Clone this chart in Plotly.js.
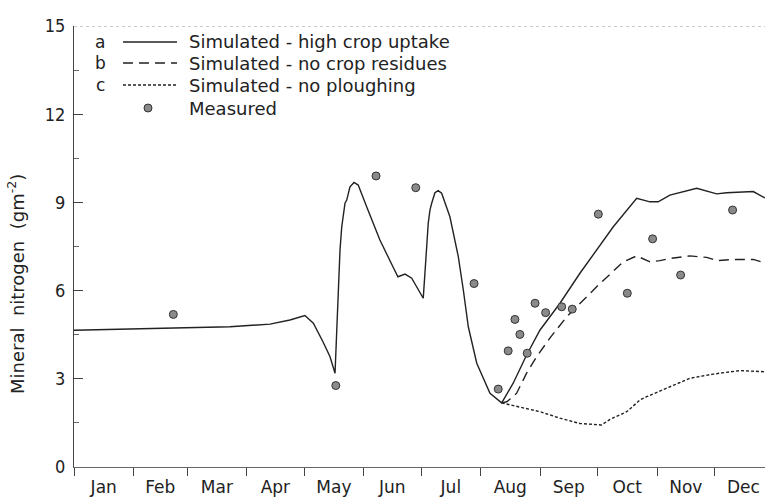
<!DOCTYPE html>
<html>
<head>
<meta charset="utf-8">
<script src="https://cdn.plot.ly/plotly-3.0.1.min.js"></script>
<style>
  html, body { margin: 0; padding: 0; background: #fff; }
  #chart { width: 765px; height: 500px; }
</style>
</head>
<body>
<div id="chart"></div>
<script>
// Mineral nitrogen in the soil over one year; x values are day of year.

// a: simulated, high crop uptake
const dayA = [0, 29.2, 81.3, 102.2, 112.6, 120.4, 124.8, 129.8, 133.5, 136.1, 137, 137.8, 138.7, 139.6,
  141.3, 142.2, 143.9, 146.0, 148.2, 152.6, 159.5, 166.3, 168.9, 172.6, 176.1, 182.1, 183.0, 183.9,
  184.7, 185.6, 186.5, 188.2, 189.9, 191.7, 196.0, 200.4, 203.0, 205.6, 210.0, 215.2, 216.9, 223.0,
  229.0, 236.0, 243.0, 253.4, 263.8, 281.2, 293.4, 300.3, 304.6, 310.7, 324.7, 335.1, 340.3, 354.2, 360.3];
const nA = [4.65, 4.70, 4.77, 4.86, 5.00, 5.15, 4.89, 4.26, 3.75, 3.19, 4.55, 6.25, 7.38, 8.17,
  8.97, 9.08, 9.53, 9.68, 9.59, 8.85, 7.72, 6.81, 6.47, 6.56, 6.42, 5.74, 6.47, 7.49,
  8.29, 8.74, 8.97, 9.33, 9.40, 9.31, 8.51, 7.15, 6.02, 4.77, 3.53, 2.73, 2.51, 2.18,
  2.85, 3.81, 4.66, 5.57, 6.59, 8.17, 9.14, 9.02, 9.02, 9.25, 9.48, 9.29, 9.33, 9.37, 9.15];

// b: simulated, no crop residues
const dayB = [223.0, 225.6, 229.0, 230.8, 236.0, 241.2, 248.2, 256.9, 272.5, 286.4, 293.4, 300.3,
  305.5, 311.6, 321.1, 329.9, 335.1, 343.7, 354.2, 360.3];
const nB = [2.18, 2.22, 2.39, 2.51, 3.19, 3.75, 4.39, 5.11, 6.13, 6.98, 7.18, 6.98,
  7.02, 7.10, 7.18, 7.13, 7.02, 7.06, 7.06, 6.94];

// c: simulated, no ploughing
const dayC = [223.0, 234.3, 243.0, 253.4, 263.8, 275.1, 279.5, 288.2, 295.1, 298.6, 309.0, 321.2,
  333.3, 347.2, 360.3];
const nC = [2.18, 2.00, 1.88, 1.66, 1.48, 1.43, 1.62, 1.88, 2.28, 2.39, 2.68, 3.02,
  3.16, 3.28, 3.24];

// measured values
const dayM = [51.8, 136.5, 157.5, 178.2, 208.6, 221.2, 226.4, 229.9, 232.5, 236.3, 240.4, 245.9,
  254.3, 259.8, 273.4, 288.5, 301.7, 316.3, 343.4];
const nM = [5.19, 2.77, 9.90, 9.50, 6.24, 2.65, 3.95, 5.02, 4.51, 3.87, 5.57, 5.25,
  5.45, 5.37, 8.60, 5.91, 7.76, 6.53, 8.74];

const seriesLetters = ['a', 'b', 'c'];
const seriesNames = ['Simulated - high crop uptake', 'Simulated - no crop residues',
  'Simulated - no ploughing', 'Measured'];
const yTitle = 'Mineral\u00a0 nitrogen\u00a0 (gm<sup>-2</sup>)';

const YEAR0 = Date.UTC(1983, 0, 1);
function toDate(d) {
  const t = new Date(YEAR0 + d * 86400000);
  return t.toISOString().replace('T', ' ').slice(0, 19);
}
const dates = arr => arr.map(toDate);

const FONT = '"DejaVu Sans", sans-serif';
const FONT_C = '"DejaVu Sans Condensed", "DejaVu Sans", sans-serif';
const INK = '#222';

const lineStyles = [
  { color: INK, width: 1.4 },
  { color: INK, width: 1.4, dash: '10px,6px' },
  { color: INK, width: 1.4, dash: '3px,2px' }
];
const dotStyle = { symbol: 'circle', size: 8, color: '#8a8a8a', line: { color: '#333', width: 1 } };

const traces = [
  { x: dates(dayA), y: nA, mode: 'lines', name: seriesNames[0], line: lineStyles[0] },
  { x: dates(dayB), y: nB, mode: 'lines', name: seriesNames[1], line: lineStyles[1] },
  { x: dates(dayC), y: nC, mode: 'lines', name: seriesNames[2], line: lineStyles[2] },
  { x: dates(dayM), y: nM, mode: 'markers', name: seriesNames[3], marker: dotStyle }
];

const plotL = 74, plotT = 26, plotW = 691, plotH = 441;
const px2x = p => (p - plotL) / plotW;
const py2y = p => (plotT + plotH - p) / plotH;

// key in the upper-left corner: letter, sample, description
const keyRows = [42, 63, 85, 108];
const keyLetterX = 100, keySampleX0 = 123, keySampleX1 = 177, keyTextX = 187;

const annotations = [];
const shapes = [{
  type: 'line', xref: 'paper', yref: 'y', x0: 0, x1: 1, y0: 15, y1: 15,
  line: { color: '#999', width: 1, dash: 'dot' }
}];

seriesNames.forEach((name, i) => {
  const yy = py2y(keyRows[i]);
  annotations.push({
    xref: 'paper', yref: 'paper', x: px2x(keyTextX), y: yy,
    text: name, showarrow: false, xanchor: 'left', yanchor: 'middle',
    font: { family: FONT, size: 18, color: INK }
  });
  if (i < seriesLetters.length) {
    annotations.push({
      xref: 'paper', yref: 'paper', x: px2x(keyLetterX), y: yy,
      text: seriesLetters[i], showarrow: false, xanchor: 'center', yanchor: 'middle',
      font: { family: FONT, size: 17, color: INK }
    });
    shapes.push({
      type: 'line', xref: 'paper', yref: 'paper',
      x0: px2x(keySampleX0), x1: px2x(keySampleX1), y0: yy, y1: yy,
      line: lineStyles[i]
    });
  } else {
    const cx = (keySampleX0 + keySampleX1) / 2 - 2, r = 4;
    shapes.push({
      type: 'circle', xref: 'paper', yref: 'paper',
      x0: px2x(cx - r), x1: px2x(cx + r), y0: py2y(keyRows[i] + r), y1: py2y(keyRows[i] - r),
      fillcolor: dotStyle.color, line: dotStyle.line
    });
  }
});

annotations.push({
  xref: 'paper', yref: 'paper', x: px2x(16), y: py2y(284),
  text: yTitle, textangle: -90, showarrow: false, xanchor: 'center', yanchor: 'middle',
  font: { family: FONT, size: 18, color: INK }
});

const layout = {
  width: 765, height: 500,
  margin: { l: plotL, r: 0, t: plotT, b: 500 - plotT - plotH, pad: 0 },
  paper_bgcolor: '#fff', plot_bgcolor: '#fff',
  font: { family: FONT, size: 17, color: INK },
  showlegend: false,
  xaxis: {
    type: 'date',
    range: [toDate(0), toDate(360.3)],
    tick0: toDate(0), dtick: 'M1',
    ticklabelmode: 'period', tickformat: '%b',
    ticks: 'outside', ticklen: 8, tickcolor: '#444', tickwidth: 1,
    ticklabelstandoff: -3,
    showline: true, linecolor: '#666', linewidth: 1,
    showgrid: false, zeroline: false,
    tickfont: { family: FONT, size: 17, color: INK }
  },
  yaxis: {
    range: [0, 15], tickvals: [0, 3, 6, 9, 12, 15],
    ticks: 'inside', ticklen: 9, tickcolor: '#444', tickwidth: 1,
    minor: { tick0: 0, dtick: 1.5, ticks: 'inside', ticklen: 5, tickcolor: '#666' },
    showline: true, linecolor: '#444', linewidth: 1,
    showgrid: false, zeroline: false,
    ticklabelstandoff: 4,
    tickfont: { family: FONT_C, size: 18, color: INK }
  },
  shapes: shapes,
  annotations: annotations
};

Plotly.newPlot('chart', traces, layout, { displayModeBar: false, staticPlot: true });
</script>
</body>
</html>
